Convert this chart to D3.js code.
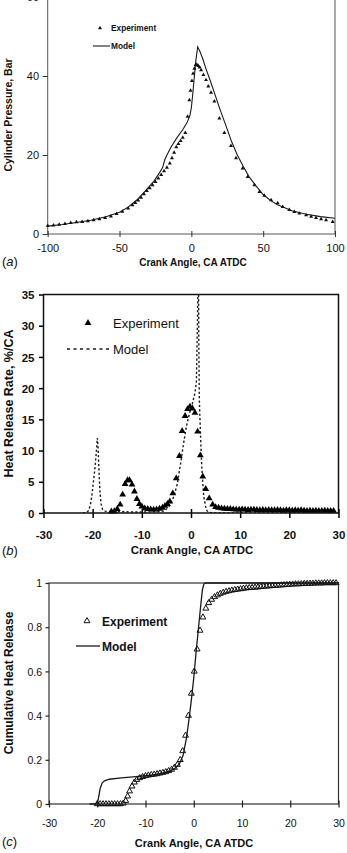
<!DOCTYPE html>
<html>
<head>
<meta charset="utf-8">
<script src="https://cdn.jsdelivr.net/npm/d3@7"></script>
<style>
  body { margin: 0; background: #fff; }
  svg { display: block; }
</style>
</head>
<body>
<svg id="fig" width="347" height="853"></svg>
<script>
// ---- (a) cylinder pressure, bar vs crank angle
const pressureXTicks = [-100, -50, 0, 50, 100];
const pressureYTicks = [0, 20, 40, 60];
const pressureExpAngle = [-100,-96,-92,-88,-84,-80,-76,-72,-68,-64,-60,-56,-52,-48,-44,
  -41,-39,-37,-35,-33,-31,-29,-27,-25,-23,-21,-19,-17,-15,
  -13.5,-12,-10.5,-9,-7.5,-6,-4.2,-2.6,-1.4,-0.6,
  0.4,1.2,2.1,3.0,3.8,4.8,5.8,6.8,
  8.4,10.2,11.8,13.7,16,19.5,23,27.6,31.1,35.7,39.2,43.9,47.4,50.8,55.5,60.1,63.6,68.2,71.7,75.2,79.9,83.4,86.8,90.3,93.8,98.4];
const pressureExpBar = [2.1,2.2,2.4,2.6,2.8,3.0,3.1,3.3,3.5,3.8,4.1,4.5,5.1,5.7,6.5,
  7.3,7.9,8.5,9.2,10.1,10.9,11.6,12.4,13.2,14.1,15.0,15.9,16.8,17.9,
  19.2,20.6,22.0,22.8,23.6,24.4,25.6,29.7,33.9,36.3,
  38.8,40.6,41.9,42.8,42.9,42.6,42.2,41.5,
  40.3,39.0,37.4,35.8,33.6,29.3,25.6,22.3,19.2,16.6,14.5,12.4,10.7,9.7,8.6,7.8,6.9,6.1,5.6,5.2,4.8,4.4,4.1,3.8,3.5,3.1];
const pressureModelAngle = [-100,-90,-80,-70,-60,-50,-44,-38,-32,-26,-22,-20,-18.5,-17,-14,-10,-6,-3,-1,0,
  1,2,3,4.4,6,8,10,13,16,20,24,28,32,36,40,45,50,55,60,70,80,90,100];
const pressureModelBar = [2.0,2.4,2.9,3.5,4.3,5.5,6.8,8.6,10.9,13.4,15.6,16.8,18.8,20.0,22.1,24.4,26.4,28.2,30.0,32.0,
  35.5,39.5,43.5,47.4,46.2,44.3,42.0,39.0,35.8,31.5,27.5,23.4,20.0,17.2,14.6,12.2,10.0,8.5,7.4,5.9,5.0,4.4,4.0];

// ---- (b) heat release rate, %/CA
const hrrXTicks = [-30, -20, -10, 0, 10, 20, 30];
const hrrYTicks = [0, 5, 10, 15, 20, 25, 30, 35];
const hrrExpAngle = [-16.2,-15.6,-15.0,-14.4,-13.9,-13.4,-12.9,-12.5,-12.0,-11.5,-11.0,-10.5,-10.0,
  -9.4,-8.8,-8.2,-7.6,-7.0,-6.4,-5.8,-5.3,-4.8,-4.3,
  -3.7,-3.0,-2.35,-1.8,-1.2,-0.7,-0.2,0.3,0.8,1.35,1.9,2.4,3.0,3.7,4.4,5.0,
  5.6,6.2,6.8,7.4,8.0,8.6,9.2,9.8,10.4,11.0,11.6,12.2,12.8,13.4,14.0,14.6,15.2,15.8,16.4,17.0,
  17.6,18.2,18.8,19.4,20.0,20.6,21.2,21.8,22.4,23.0,23.6,24.2,24.8,25.4,26.0,26.6,27.2,27.8,28.4,29.0];
const hrrExpRate = [0.0,0.05,0.4,1.1,2.7,4.4,5.0,5.0,4.3,3.2,2.0,1.2,0.8,
  0.5,0.4,0.35,0.3,0.35,0.45,0.6,0.9,1.2,1.6,
  2.9,5.3,8.9,12.9,15.3,16.4,16.8,16.5,15.8,12.8,9.0,5.6,3.6,2.1,1.1,0.7,
  0.6,0.5,0.45,0.4,0.4,0.35,0.3,0.3,0.35,0.3,0.25,0.3,0.3,0.25,0.2,0.25,0.2,0.25,0.2,0.2,
  0.25,0.2,0.15,0.2,0.2,0.15,0.2,0.15,0.2,0.15,0.1,0.15,0.1,0.15,0.1,0.1,0.15,0.1,0.1,0.1];
const hrrModelAngle = [-22,-21.2,-20.8,-20.4,-20.1,-19.8,-19.5,-19.25,-19.05,-18.9,-18.7,-18.5,-18.3,-18.0,-17.6,
  -17,-14,-10,-7,-5.5,-4.5,-3.5,-2.8,-2.1,-1.5,-0.9,-0.3,0.3,0.8,1.1,1.3,1.5,1.6,1.7,1.9,2.1,2.3,2.6,3.1,3.6,5,30];
const hrrModelRate = [0,0.1,0.4,1.6,3.2,5.3,7.5,9.8,12.0,10.5,6.5,3.2,1.5,0.6,0.3,
  0.25,0.2,0.15,0.2,0.3,1.0,2.6,4.6,8.0,11.2,14.0,16.0,17.6,19.2,21.0,30.0,42.0,26.0,18.0,13.3,9.0,5.8,2.6,0.5,0.1,0,0];

// ---- (c) cumulative heat release
const cumXTicks = [-30, -20, -10, 0, 10, 20, 30];
const cumYTicks = [0, 0.2, 0.4, 0.6, 0.8, 1];
const cumExpAngle = [-20.0,-19.4,-18.8,-18.2,-17.6,-17.0,-16.4,-15.8,-15.2,
  -14.6,-14.1,-13.7,-13.3,-12.8,-12.3,-11.8,
  -11.2,-10.6,-10.0,-9.4,-8.8,-8.2,-7.6,-7.0,-6.4,-5.8,-5.2,-4.6,-4.0,-3.4,-2.8,
  -2.3,-1.7,-1.1,-0.5,0.1,0.7,1.3,1.9,2.5,3.1,3.7,4.3,4.9,5.5,6.1,6.7,7.3,7.9,8.5,9.1,
  9.7,10.3,10.9,11.5,12.1,12.7,13.3,13.9,14.5,15.1,15.7,16.3,16.9,17.5,18.1,18.7,19.3,19.9,
  20.5,21.1,21.7,22.3,22.9,23.5,24.1,24.7,25.3,25.9,26.5,27.1,27.7,28.3,28.9,29.5];
const cumExpFrac = [0,0,0,0,0,0,0,0,0,
  0.003,0.015,0.035,0.058,0.08,0.098,0.11,
  0.118,0.123,0.127,0.13,0.132,0.134,0.136,0.139,0.142,0.145,0.15,0.156,0.165,0.178,0.2,
  0.24,0.31,0.40,0.50,0.60,0.70,0.785,0.845,0.885,0.91,0.925,0.937,0.945,0.952,0.957,0.961,0.964,0.967,0.969,0.971,
  0.973,0.975,0.977,0.978,0.979,0.98,0.981,0.983,0.984,0.985,0.986,0.987,0.988,0.989,0.99,0.991,0.992,0.993,
  0.994,0.995,0.995,0.996,0.997,0.997,0.998,0.998,0.999,0.999,0.999,1.0,1.0,1.0,1.0,1.0];
const cumModelAngle = [-21.6,-20.2,-19.8,-19.4,-19.0,-18.5,-17.5,-15,-12,-9,-7,-5,-4,-3,-2.2,-1.5,-1.0,-0.5,0,0.5,
  1.0,1.5,1.8,2.1,2.4,30];
const cumModelFrac = [0,0,0.02,0.07,0.095,0.105,0.112,0.118,0.124,0.13,0.137,0.148,0.16,0.18,0.22,0.3,0.38,0.47,0.57,0.69,
  0.80,0.91,0.97,0.995,1.0,1.0];

const FONT = "'Liberation Sans', Arial, Helvetica, sans-serif";
const svg = d3.select("#fig");
const zip = (xs, ys) => xs.map((v, i) => [v, ys[i]]);
const fmt = d => String(d);

// frame box around plot area
function frame(g, x, y, color, w) {
  g.append("rect")
    .attr("x", x.range()[0]).attr("y", y.range()[1])
    .attr("width", x.range()[1] - x.range()[0])
    .attr("height", y.range()[0] - y.range()[1])
    .attr("fill", "none").attr("stroke", color).attr("stroke-width", w);
}

// bottom axis: ticks cross the axis line (up px inside, down px outside)
function xAxis(g, x, ticks, yPos, up, down, labelY, st) {
  const top = yPos - up;
  const ax = g.append("g").attr("transform", `translate(0,${top})`)
    .call(d3.axisBottom(x).tickValues(ticks).tickSize(up + down).tickSizeOuter(0).tickFormat(fmt));
  ax.select(".domain").remove();
  ax.selectAll("line").attr("stroke", st.color).attr("stroke-width", st.w);
  ax.selectAll("text").attr("y", labelY - top).attr("dy", 0)
    .attr("fill", "#111").attr("font-size", st.size).attr("font-weight", st.weight).attr("font-family", FONT);
}

function yAxis(g, y, ticks, xPos, len, labelX, st) {
  const ax = g.append("g").attr("transform", `translate(${xPos},0)`)
    .call(d3.axisLeft(y).tickValues(ticks).tickSize(len).tickSizeOuter(0).tickFormat(fmt));
  ax.select(".domain").remove();
  ax.selectAll("line").attr("stroke", st.color).attr("stroke-width", st.w);
  ax.selectAll("text").attr("x", labelX - xPos).attr("dy", "0.36em")
    .attr("fill", "#111").attr("font-size", st.size).attr("font-weight", st.weight).attr("font-family", FONT);
}

function label(g, txt, x, y, size, weight, rot) {
  const t = g.append("text").attr("font-family", FONT).attr("font-size", size)
    .attr("font-weight", weight).attr("fill", "#111").attr("text-anchor", "middle").text(txt);
  if (rot) t.attr("transform", `translate(${x},${y}) rotate(-90)`);
  else t.attr("x", x).attr("y", y);
  return t;
}

function panelTag(g, letter, x, y) {
  const t = g.append("text").attr("x", x).attr("y", y).attr("font-family", FONT)
    .attr("font-size", 13).attr("fill", "#111");
  t.append("tspan").text("(");
  t.append("tspan").attr("font-style", "italic").text(letter);
  t.append("tspan").text(")");
}

// ================= (a) =================
const xA = d3.scaleLinear().domain([-100, 100]).range([47.7, 335]);
const yA = d3.scaleLinear().domain([0, 60]).range([234, -3]);
const gA = svg.append("g");
frame(gA, xA, yA, "#555", 1);
const stA = { color: "#333", w: 1, size: 11, weight: "normal" };
xAxis(gA, xA, pressureXTicks, yA(0), 3, 3, 252, stA);
yAxis(gA, yA, pressureYTicks, xA(-100), 5, 39, stA);

gA.append("path").datum(zip(pressureModelAngle, pressureModelBar))
  .attr("fill", "none").attr("stroke", "#1a1a1a").attr("stroke-width", 1.1)
  .attr("d", d3.line().x(d => xA(d[0])).y(d => yA(d[1])));
gA.selectAll(".ptA").data(zip(pressureExpAngle, pressureExpBar)).join("path")
  .attr("transform", d => `translate(${xA(d[0])},${yA(d[1])})`)
  .attr("d", d3.symbol(d3.symbolTriangle, 7)).attr("fill", "#111");

// legend (a)
gA.append("path").attr("transform", "translate(100,28)")
  .attr("d", d3.symbol(d3.symbolTriangle, 7)).attr("fill", "#111");
gA.append("line").attr("x1", 93).attr("x2", 110).attr("y1", 46).attr("y2", 46)
  .attr("stroke", "#1a1a1a").attr("stroke-width", 1.1);
label(gA, "Experiment", 111, 31, 8.3, "bold").attr("text-anchor", "start");
label(gA, "Model", 111, 49, 8.3, "bold").attr("text-anchor", "start");

label(gA, "Crank Angle, CA ATDC", 193, 265.5, 10, "bold");
label(gA, "Cylinder Pressure, Bar", 11.5, 115, 10.5, "bold", true);
panelTag(gA, "a", 2, 266);

// ================= (b) =================
const xB = d3.scaleLinear().domain([-30, 30]).range([43.5, 338.5]);
const yB = d3.scaleLinear().domain([0, 35]).range([513, 294.5]);
const gB = svg.append("g");
svg.append("defs").append("clipPath").attr("id", "clipB").append("rect")
  .attr("x", 43.5).attr("y", 294.5).attr("width", 295).attr("height", 218.5);
const stB = { color: "#000", w: 1.5, size: 11.5, weight: "bold" };
xAxis(gB, xB, hrrXTicks, yB(0), 4, 5, 539, stB);
yAxis(gB, yB, hrrYTicks, xB(-30), 4.5, 34.5, stB);

gB.append("path").datum(zip(hrrModelAngle, hrrModelRate))
  .attr("clip-path", "url(#clipB)")
  .attr("fill", "none").attr("stroke", "#1a1a1a").attr("stroke-width", 1.4)
  .attr("stroke-dasharray", "2.2,2.2")
  .attr("d", d3.line().x(d => xB(d[0])).y(d => yB(d[1])));
gB.selectAll(".ptB").data(zip(hrrExpAngle, hrrExpRate)).join("path")
  .attr("transform", d => `translate(${xB(d[0])},${yB(d[1]) - 1.5})`)
  .attr("d", d3.symbol(d3.symbolTriangle, 20)).attr("fill", "#000");
frame(gB, xB, yB, "#111", 1.5);

// legend (b)
gB.append("path").attr("transform", "translate(88,323)")
  .attr("d", d3.symbol(d3.symbolTriangle, 20)).attr("fill", "#000");
gB.append("line").attr("x1", 67).attr("x2", 111).attr("y1", 349).attr("y2", 349)
  .attr("stroke", "#1a1a1a").attr("stroke-width", 1.4).attr("stroke-dasharray", "3,3.5");
label(gB, "Experiment", 113, 327.5, 13, "normal").attr("text-anchor", "start");
label(gB, "Model", 113, 353.5, 13, "normal").attr("text-anchor", "start");

label(gB, "Crank Angle, CA ATDC", 192, 554, 11.4, "bold");
label(gB, "Heat Release Rate, %/CA", 13, 403.5, 12.5, "bold", true);
panelTag(gB, "b", 2, 555);

// ================= (c) =================
const xC = d3.scaleLinear().domain([-30, 30]).range([49, 338.5]);
const yC = d3.scaleLinear().domain([0, 1]).range([804, 583]);
const gC = svg.append("g");
frame(gC, xC, yC, "#333", 1.2);
const stC = { color: "#222", w: 1.2, size: 10.5, weight: "normal" };
xAxis(gC, xC, cumXTicks, yC(0), 3.5, 3.5, 827, stC);
yAxis(gC, yC, cumYTicks, xC(-30), 3.5, 42, stC);

gC.append("path").datum(zip(cumModelAngle, cumModelFrac))
  .attr("fill", "none").attr("stroke", "#1a1a1a").attr("stroke-width", 1.3)
  .attr("d", d3.line().x(d => xC(d[0])).y(d => yC(d[1])));
gC.selectAll(".ptC").data(zip(cumExpAngle, cumExpFrac)).join("path")
  .attr("transform", d => `translate(${xC(d[0])},${yC(d[1])})`)
  .attr("d", d3.symbol(d3.symbolTriangle, 15))
  .attr("fill", "none").attr("stroke", "#111").attr("stroke-width", 1);

// legend (c)
gC.append("path").attr("transform", "translate(87,621)")
  .attr("d", d3.symbol(d3.symbolTriangle, 15))
  .attr("fill", "none").attr("stroke", "#111").attr("stroke-width", 1);
gC.append("line").attr("x1", 76).attr("x2", 100).attr("y1", 646).attr("y2", 646)
  .attr("stroke", "#1a1a1a").attr("stroke-width", 1.3);
label(gC, "Experiment", 102, 625.5, 12, "bold").attr("text-anchor", "start");
label(gC, "Model", 102, 650.5, 12, "bold").attr("text-anchor", "start");

label(gC, "Crank Angle, CA ATDC", 194, 847, 11, "bold");
label(gC, "Cumulative Heat Release", 12.5, 683, 12, "bold", true);
panelTag(gC, "c", 2, 846);
</script>
</body>
</html>
